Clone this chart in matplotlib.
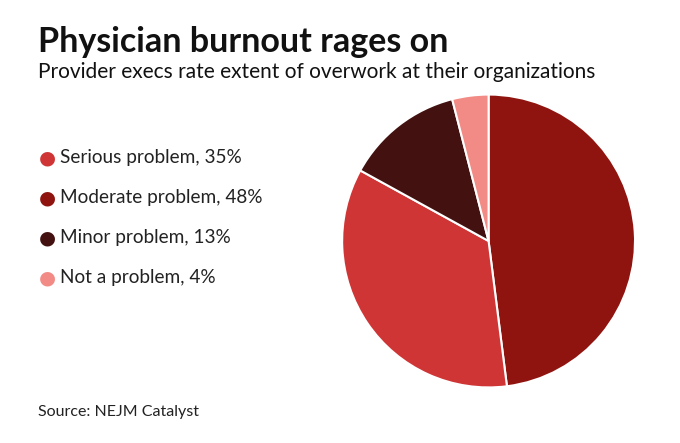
import matplotlib
matplotlib.use("Agg")
import matplotlib.pyplot as plt

categories = ["Moderate problem", "Serious problem", "Minor problem", "Not a problem"]
values = [48, 35, 13, 4]
colors = ["#8f140f", "#d03536", "#431210", "#f28b85"]
legend_order = ["Serious problem", "Moderate problem", "Minor problem", "Not a problem"]

fig = plt.figure(figsize=(6.8, 4.43), dpi=100)
fig.patch.set_facecolor("white")
ax = fig.add_axes([0.501, 0.122, 0.435, 0.668])
ax.pie(values, colors=colors, startangle=90, counterclock=False,
       wedgeprops=dict(edgecolor="white", linewidth=1.5))
ax.set_xlim(-1.01, 1.01)
ax.set_ylim(-1.01, 1.01)
ax.set_aspect("equal")

fig.text(38/680, 1-42/443, "Physician burnout rages on", fontsize=24.5, fontweight="bold",
         va="center", ha="left", color="#111111", family="Lato")
fig.text(38/680, 1-72/443, "Provider execs rate extent of overwork at their organizations",
         fontsize=15, va="center", ha="left", color="#111111", family="Lato")
for i, name in enumerate(legend_order):
    y = 1 - (158 + 40*i)/443
    idx = categories.index(name)
    fig.text(47/680, y, "\u25CF", color=colors[idx], fontsize=14, va="center", ha="center")
    fig.text(60/680, y, f"{name}, {values[idx]}%", fontsize=13.7, va="center", ha="left",
             color="#222222", family="Lato")
fig.text(38/680, 1-412/443, "Source: NEJM Catalyst", fontsize=11.5, va="center", ha="left",
         color="#222222", family="Lato")
fig.savefig("out.png", dpi=100)
